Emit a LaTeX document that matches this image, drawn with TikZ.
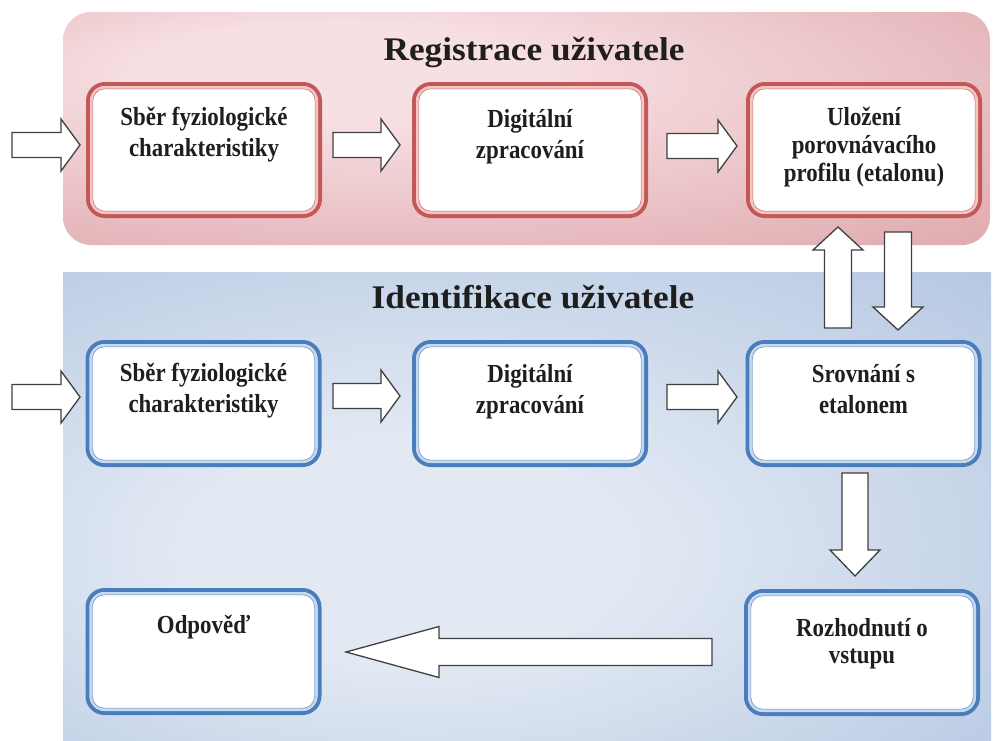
\documentclass[tikz,border=0pt]{standalone}
\usepackage{fontspec}
\setmainfont{Liberation Serif}
\usetikzlibrary{calc}

\definecolor{redpanin}{HTML}{F7E0E3}
\definecolor{redpanout}{HTML}{CC7C82}
\definecolor{bluepanin}{HTML}{E2E9F3}
\definecolor{bluepanout}{HTML}{86A4D1}
\definecolor{redrim}{HTML}{C25858}
\definecolor{redband}{HTML}{F3C6C6}
\definecolor{redinner}{HTML}{D98484}
\definecolor{bluerim}{HTML}{4A7DBB}
\definecolor{blueband}{HTML}{C6D9F0}
\definecolor{blueinner}{HTML}{7FA3CF}
\definecolor{ink}{HTML}{1E1E1E}
\definecolor{arrowline}{HTML}{404040}

% soft glow of the two panels
\pgfdeclareradialshading{redglow}{\pgfpoint{-12bp}{14bp}}{color(0bp)=(redpanin); color(10bp)=(redpanin); color(70bp)=(redpanout)}
\pgfdeclareradialshading{blueglow}{\pgfpoint{-8bp}{-6bp}}{color(0bp)=(bluepanin); color(12bp)=(bluepanin); color(70bp)=(bluepanout)}

% multi-line box caption, baseline = first line
\newcommand\boxlines[2][31]{\scalebox{0.88}[1]{\fontsize{26}{#1}\selectfont\bfseries\begin{tabular}[t]{@{}c@{}}#2\end{tabular}}}

% outlined block arrow from #1 (tail) to #2 (tip);
% #3 shaft half-width, #4 head half-width, #5 head length
\newcommand\blockarrow[5]{%
  \path let \p1=(#1), \p2=(#2) in \pgfextra{%
    \pgfmathsetmacro\arrangtmp{atan2((\y2)-(\y1),(\x2)-(\x1))}%
    \pgfmathsetmacro\arrlentmp{veclen((\x2)-(\x1),(\y2)-(\y1))}%
    \xdef\arrang{\arrangtmp}\xdef\arrlen{\arrlentmp}%
    \xdef\arrx{\x1}\xdef\arry{\y1}};
  \begin{scope}[shift={(\arrx,\arry)}, rotate=\arrang, x=1pt, y=1pt]
    \draw[flowarrow] (0,-#3) -- ({\arrlen-#5},-#3) -- ({\arrlen-#5},-#4) -- (\arrlen,0)
      -- ({\arrlen-#5},#4) -- ({\arrlen-#5},#3) -- (0,#3) -- cycle;
  \end{scope}}

\begin{document}
\begin{tikzpicture}[x=1pt, y=-1pt,
  flowarrow/.style={draw=arrowline, line width=1.3pt, fill=white, line join=miter},
  rbox/.style={draw=redrim, line width=4pt, fill=white, rounded corners=17pt,
    minimum width=232pt, minimum height=132pt, inner sep=0pt, outer sep=0pt},
  bbox/.style={draw=bluerim, line width=4pt, fill=white, rounded corners=17pt,
    minimum width=232pt, minimum height=123pt, inner sep=0pt, outer sep=0pt},
  lbl/.style={anchor=base, inner sep=0pt, text=ink},
  title/.style={anchor=base, inner sep=0pt, text=ink, font=\fontsize{33}{40}\selectfont\bfseries}]

\useasboundingbox (0,0) rectangle (997,740);
\fill[white] (0,0) rectangle (997,740);

% panels
\path[shading=redglow, rounded corners=28pt] (63,12) rectangle (990,245);
\path[shading=blueglow] (63,272) rectangle (991,740);

% titles
\node[title] (treg) at (534,60) {\scalebox{1.07}[1]{Registrace uživatele}};
\node[title] (tid) at (533,308) {\scalebox{1.07}[1]{Identifikace uživatele}};

% boxes
\node[rbox] (r1) at (204,150) {};
\node[rbox] (r2) at (530,150) {};
\node[rbox] (r3) at (864,150) {};
\node[bbox] (b1) at (203.5,403.5) {};
\node[bbox] (b2) at (530,403.5) {};
\node[bbox] (b3) at (863.5,403.5) {};
\node[bbox] (od) at (203.5,651.5) {};
\node[bbox] (rz) at (862,652.5) {};

% inner rims of the box frames
\foreach \n in {r1,r2,r3}{
  \draw[redband, line width=2.4pt, rounded corners=14pt]
    ([shift={(3.2pt,-3.2pt)}]\n.north west) rectangle ([shift={(-3.2pt,3.2pt)}]\n.south east);
  \draw[redinner, line width=0.8pt, rounded corners=12pt]
    ([shift={(4.8pt,-4.8pt)}]\n.north west) rectangle ([shift={(-4.8pt,4.8pt)}]\n.south east);
}
\foreach \n in {b1,b2,b3,od,rz}{
  \draw[blueband, line width=2.4pt, rounded corners=14pt]
    ([shift={(3.2pt,-3.2pt)}]\n.north west) rectangle ([shift={(-3.2pt,3.2pt)}]\n.south east);
  \draw[blueinner, line width=0.8pt, rounded corners=12pt]
    ([shift={(4.8pt,-4.8pt)}]\n.north west) rectangle ([shift={(-4.8pt,4.8pt)}]\n.south east);
}

% captions
\node[lbl] (tr1) at ([yshift=-41pt]r1.north) {\boxlines{Sběr fyziologické\\charakteristiky}};
\node[lbl] (tr2) at ([yshift=-43pt]r2.north) {\boxlines{Digitální\\zpracování}};
\node[lbl] (tr3) at ([yshift=-41pt]r3.north) {\boxlines[28]{Uložení\\porovnávacího\\profilu (etalonu)}};
\node[lbl] (tb1) at ([yshift=-39pt]b1.north) {\boxlines{Sběr fyziologické\\charakteristiky}};
\node[lbl] (tb2) at ([yshift=-40pt]b2.north) {\boxlines{Digitální\\zpracování}};
\node[lbl] (tb3) at ([yshift=-40pt]b3.north) {\boxlines{Srovnání s\\etalonem}};
\node[lbl] (tod) at ([yshift=-43pt]od.north) {\boxlines{Odpověď}};
\node[lbl] (trz) at ([yshift=-45pt]rz.north) {\boxlines[27]{Rozhodnutí o\\vstupu}};

% arrows
\coordinate (inR) at (12,145);
\coordinate (inB) at (12,397);
\blockarrow{inR}{[shift={(-8pt,5pt)}]r1.west}{12.5}{26}{19}
\blockarrow{[shift={(13pt,5pt)}]r1.east}{[shift={(-14pt,5pt)}]r2.west}{12.5}{26}{19}
\blockarrow{[shift={(21pt,4pt)}]r2.east}{[shift={(-11pt,4pt)}]r3.west}{12.5}{26}{19}
\blockarrow{inB}{[shift={(-7.5pt,6.5pt)}]b1.west}{12.5}{26}{19}
\blockarrow{[shift={(13.5pt,7.5pt)}]b1.east}{[shift={(-14pt,7.5pt)}]b2.west}{12.5}{26}{19}
\blockarrow{[shift={(21pt,6.5pt)}]b2.east}{[shift={(-10.5pt,6.5pt)}]b3.west}{12.5}{26}{19}
\blockarrow{[shift={(-25.5pt,14pt)}]b3.north}{[shift={(-26pt,-11pt)}]r3.south}{13.5}{25}{23}
\blockarrow{[shift={(34pt,-16pt)}]r3.south}{[shift={(34.5pt,12pt)}]b3.north}{13.5}{25}{23}
\blockarrow{[shift={(-8.5pt,-8pt)}]b3.south}{[shift={(-7pt,15pt)}]rz.north}{13}{25}{26}
\blockarrow{[shift={(-34pt,0.5pt)}]rz.west}{[shift={(26.5pt,-0.5pt)}]od.east}{13.5}{25.5}{93}
\end{tikzpicture}
\end{document}
